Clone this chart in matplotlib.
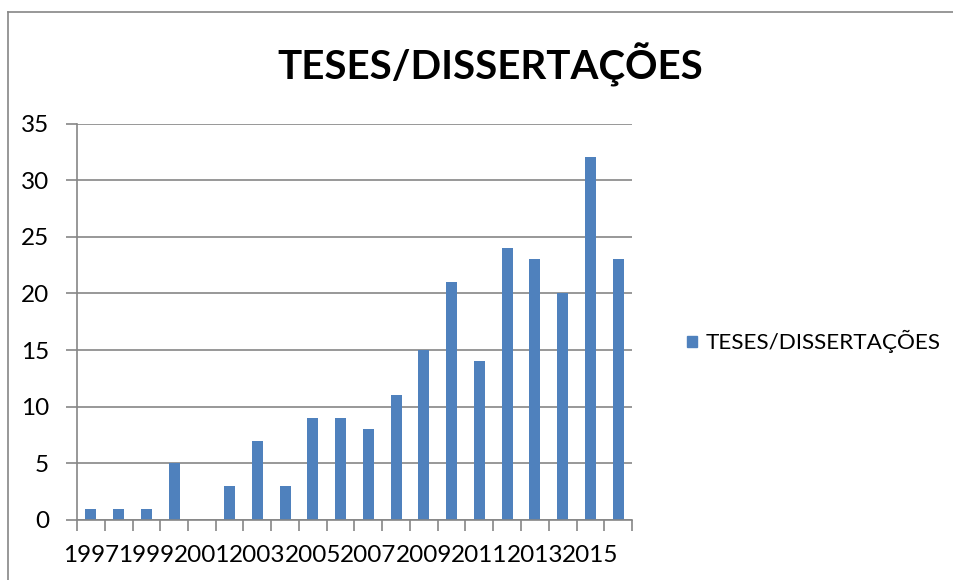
import matplotlib
matplotlib.use("Agg")
import matplotlib.pyplot as plt
from matplotlib.patches import Rectangle
from matplotlib.lines import Line2D

plt.rcParams['font.family'] = ['Lato', 'DejaVu Sans']

# data
anos = list(range(1997, 2017))
valores = [1, 1, 1, 5, 0, 3, 7, 3, 9, 9, 8, 11, 15, 21, 14, 24, 23, 20, 32, 23]
rotulos_x = [str(a) for a in anos[::2]]
titulo = 'TESES/DISSERTAÇÕES'

cor_barra = '#4F81BD'
cinza = '#868686'

fig = plt.figure(figsize=(9.54, 5.80), dpi=100)
W, H = 954, 580

# outer chart border (left and top visible)
fig.add_artist(Line2D([8 / W, 8 / W], [0, 1 - 11.5 / H], transform=fig.transFigure,
                      color=cinza, lw=1.2))
fig.add_artist(Line2D([8 / W, 1], [1 - 11.5 / H, 1 - 11.5 / H], transform=fig.transFigure,
                      color=cinza, lw=1.2))

ax = fig.add_axes([77 / W, 1 - 520 / H, (632 - 77) / W, (520 - 123.5) / H])

x = list(range(len(anos)))
ax.bar(x, valores, width=0.4, color=cor_barra, zorder=3)

ax.set_xlim(-0.5, len(anos) - 0.5)
ax.set_ylim(0, 35)
ax.set_yticks(range(0, 36, 5))
ax.yaxis.grid(True, color=cinza, lw=1.2, zorder=0)

# category boundary ticks, labels on every other category
ax.set_xticks([i - 0.5 for i in range(len(anos) + 1)])
ax.set_xticklabels([])
ax.set_xticks(x[::2], minor=True)
ax.set_xticklabels(rotulos_x, minor=True)
ax.tick_params(axis='x', which='major', length=8, width=1.2, color=cinza, direction='out')
ax.tick_params(axis='x', which='minor', length=0, pad=18, labelsize=17.5)
ax.tick_params(axis='y', length=8, width=1.2, color=cinza, direction='out', labelsize=17.5, pad=12)

for s in ['top', 'right']:
    ax.spines[s].set_visible(False)
for s in ['left', 'bottom']:
    ax.spines[s].set_color(cinza)
    ax.spines[s].set_linewidth(1.2)
    ax.spines[s].set_zorder(4)

fig.text(490 / W, 1 - 65 / H, titulo, ha='center', va='center', fontsize=29,
         fontweight='bold')

# legend
fig.add_artist(Rectangle((687 / W, 1 - 347 / H), 10 / W, 11 / H, transform=fig.transFigure,
                         color=cor_barra))
fig.text(706 / W, 1 - 341 / H, titulo, ha='left', va='center', fontsize=16.2)

fig.savefig('out.png', dpi=100)
